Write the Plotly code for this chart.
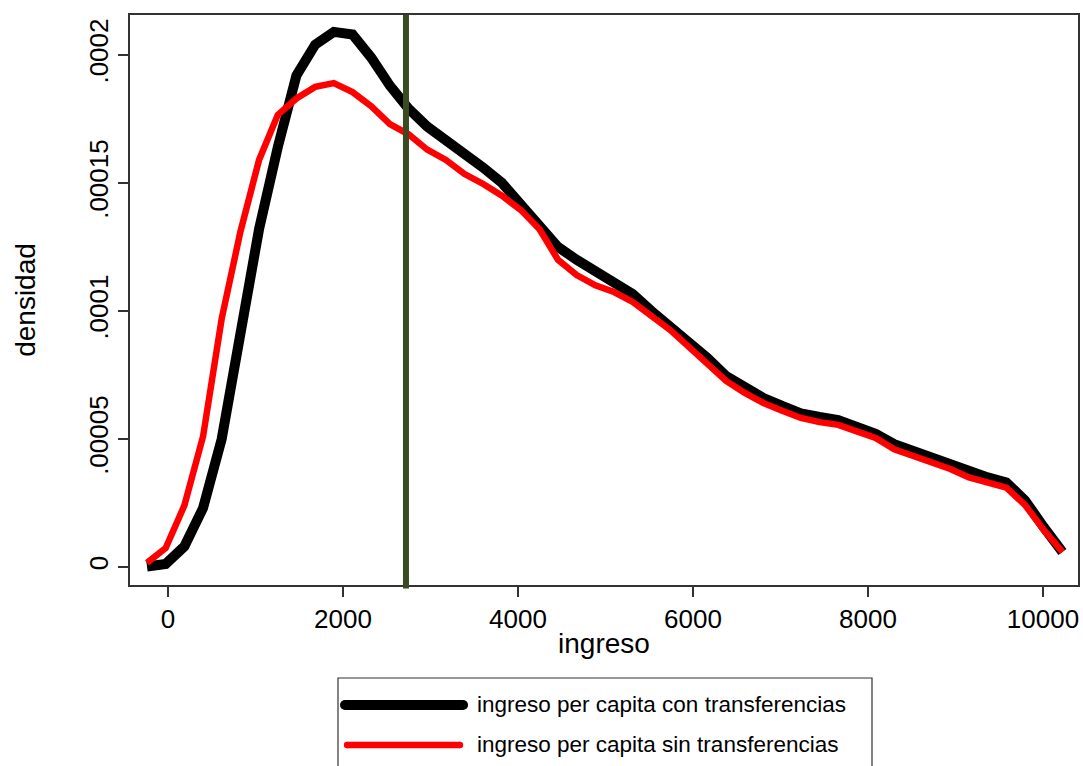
import plotly.graph_objects as go

# ---- data ----
ingreso = [-240, -26, 187, 401, 614, 828, 1041, 1255, 1468, 1682,
           1895, 2109, 2322, 2536, 2749, 2963, 3176, 3390, 3603, 3817,
           4030, 4244, 4457, 4671, 4884, 5098, 5311, 5525, 5738, 5952,
           6165, 6379, 6592, 6806, 7019, 7233, 7446, 7660, 7873, 8087,
           8300, 8514, 8727, 8941, 9154, 9368, 9581, 9795, 10008, 10222]

dens_con = [0.02e-5, 0.12e-5, 0.8e-5, 2.3e-5, 5.0e-5, 9.0e-5, 13.2e-5, 16.4e-5, 19.2e-5, 20.4e-5,
            20.9e-5, 20.8e-5, 19.9e-5, 18.8e-5, 17.9e-5, 17.2e-5, 16.7e-5, 16.1e-5, 15.6e-5, 15.0e-5,
            14.2e-5, 13.4e-5, 12.5e-5, 12.0e-5, 11.56e-5, 11.2e-5, 10.66e-5, 10.0e-5, 9.4e-5, 8.75e-5,
            8.16e-5, 7.46e-5, 7.0e-5, 6.6e-5, 6.29e-5, 6.0e-5, 5.86e-5, 5.74e-5, 5.47e-5, 5.2e-5,
            4.8e-5, 4.53e-5, 4.3e-5, 4.0e-5, 3.7e-5, 3.5e-5, 3.3e-5, 2.6e-5, 1.56e-5, 0.59e-5]

dens_sin = [0.16e-5, 0.74e-5, 2.4e-5, 5.1e-5, 9.7e-5, 13.1e-5, 15.9e-5, 17.66e-5, 18.3e-5, 18.75e-5,
            18.9e-5, 18.55e-5, 18.0e-5, 17.3e-5, 16.9e-5, 16.3e-5, 15.9e-5, 15.35e-5, 14.96e-5, 14.5e-5,
            13.95e-5, 13.2e-5, 12.0e-5, 11.4e-5, 11.0e-5, 10.74e-5, 10.35e-5, 9.8e-5, 9.26e-5, 8.6e-5,
            7.97e-5, 7.27e-5, 6.8e-5, 6.4e-5, 6.1e-5, 5.82e-5, 5.66e-5, 5.55e-5, 5.3e-5, 5.04e-5,
            4.6e-5, 4.34e-5, 4.1e-5, 3.83e-5, 3.5e-5, 3.3e-5, 3.1e-5, 2.42e-5, 1.45e-5, 0.59e-5]

linea_vertical = 2720

series_names = ["ingreso per capita con transferencias",
                "ingreso per capita sin transferencias"]

x_tickvals = [0, 2000, 4000, 6000, 8000, 10000]
x_ticktext = ["0", "2000", "4000", "6000", "8000", "10000"]
y_tickvals = [0, 0.00005, 0.0001, 0.00015, 0.0002]
y_ticktext = ["0", ".00005", ".0001", ".00015", ".0002"]

FONT = "Liberation Sans, Arial, Helvetica, sans-serif"
FRAME = "#333333"

fig = go.Figure()
fig.add_trace(go.Scatter(x=ingreso, y=dens_con, mode="lines", name=series_names[0],
                         line=dict(color="black", width=10), showlegend=False))
fig.add_trace(go.Scatter(x=ingreso, y=dens_sin, mode="lines", name=series_names[1],
                         line=dict(color="#FF0000", width=6.5), showlegend=False))

# vertical reference line
fig.add_shape(type="line", xref="x", yref="paper", x0=linea_vertical, x1=linea_vertical,
              y0=-0.006, y1=1.0, line=dict(color="#3A4A22", width=6))

# manual legend (box, sample lines with round ends, labels) placed below the plot
fig.add_shape(type="rect", xref="paper", yref="paper", x0=0.2194, x1=0.7827,
              y0=-0.40, y1=-0.1632, line=dict(color=FRAME, width=1.2), fillcolor="white",
              layer="below")
legend_rows = [(-0.2105, 0.2268, 0.3513, "black", 10),
               (-0.2807, 0.2290, 0.3481, "#FF0000", 6.5)]
for (yy, xa, xb, col, w), name in zip(legend_rows, series_names):
    fig.add_shape(type="line", xref="paper", yref="paper", x0=xa, x1=xb,
                  y0=yy, y1=yy, line=dict(color=col, width=w))
    for xe in (xa, xb):
        fig.add_shape(type="circle", xref="paper", yref="paper",
                      xsizemode="pixel", ysizemode="pixel", xanchor=xe, yanchor=yy,
                      x0=-w / 2, x1=w / 2, y0=-w / 2, y1=w / 2,
                      fillcolor=col, line=dict(width=0))
    fig.add_annotation(xref="paper", yref="paper", x=0.3639, y=yy, text=name,
                       showarrow=False, xanchor="left", yanchor="middle",
                       font=dict(family=FONT, size=22.5, color="black"))

axis_common = dict(showline=True, mirror=True, linecolor=FRAME, linewidth=1.5,
                   ticks="outside", ticklen=10, tickwidth=1.5, tickcolor=FRAME,
                   showgrid=False, zeroline=False, automargin=False,
                   tickfont=dict(family=FONT, size=26, color="black"))

fig.update_xaxes(range=[-434, 10400], tickvals=x_tickvals, ticktext=x_ticktext,
                 title=dict(text="ingreso", font=dict(family=FONT, size=28, color="black"),
                            standoff=0),
                 **axis_common)
fig.update_yaxes(range=[-0.00000703, 0.0002156], tickvals=y_tickvals, ticktext=y_ticktext,
                 tickangle=-90,
                 title=dict(text="densidad", font=dict(family=FONT, size=28, color="black"),
                            standoff=40),
                 **axis_common)

fig.update_layout(width=1083, height=766, plot_bgcolor="white", paper_bgcolor="white",
                  margin=dict(l=130, r=5, t=15, b=181), showlegend=False,
                  font=dict(family=FONT, color="black"))

fig.write_html("out.html", config={"displayModeBar": False},
               post_script="document.body.style.margin='0';document.body.style.overflow='hidden';")
